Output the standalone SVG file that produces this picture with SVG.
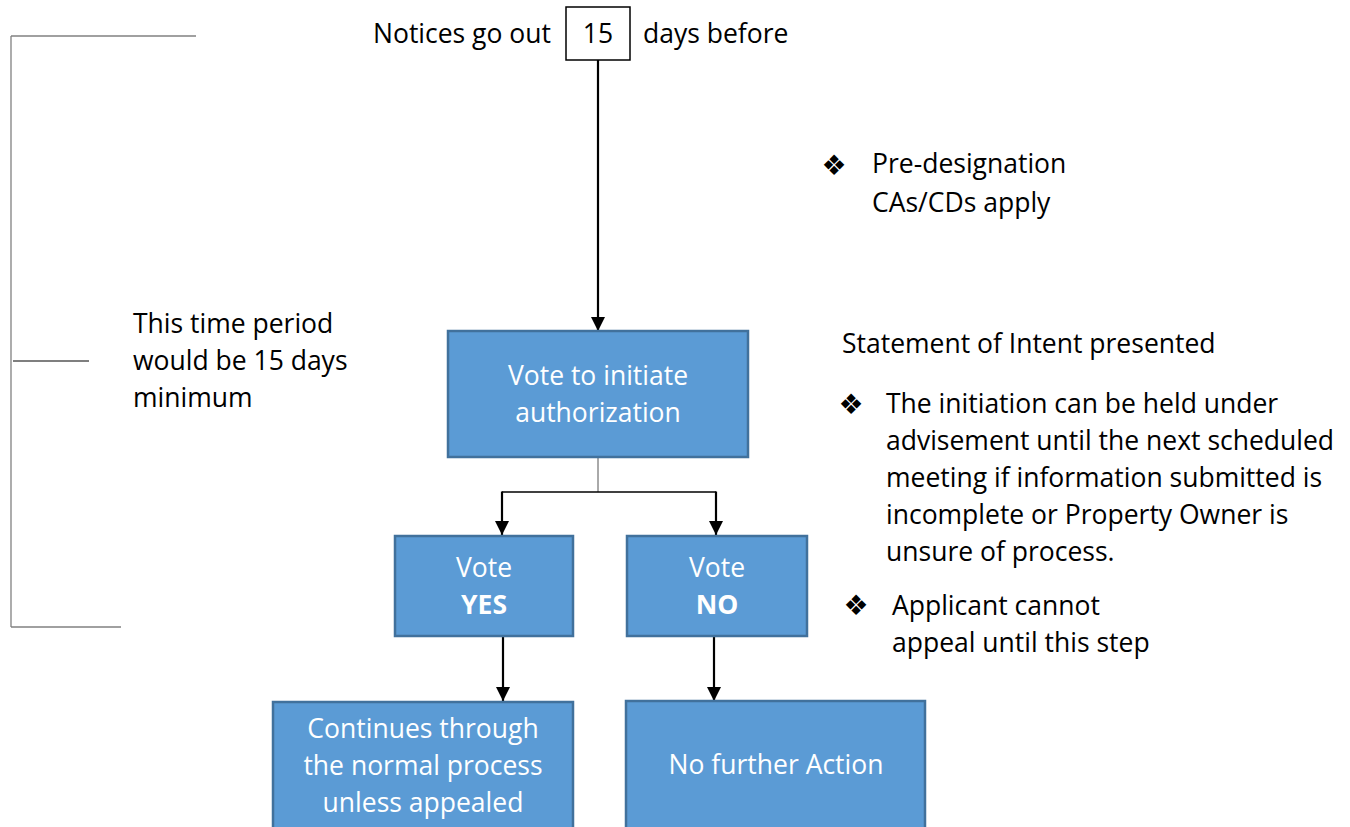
<svg xmlns="http://www.w3.org/2000/svg" width="1350" height="827" viewBox="0 0 1350 827">
<style>
.t{font-family:"Open Sans","Liberation Sans",sans-serif;font-size:26.5px;fill:#000}
.w{font-family:"Open Sans","Liberation Sans",sans-serif;font-size:26.5px;fill:#fff;text-anchor:middle}
.b{font-weight:bold}
.box{fill:#5B9BD5;stroke:#41719C;stroke-width:2.5}
.bul{font-family:"DejaVu Sans",sans-serif;font-size:28px;fill:#000;text-anchor:middle}
.br{stroke:#808080;stroke-width:1.3;fill:none}
.c{stroke:#000;stroke-width:2.2;fill:none}
</style>
<defs>
<marker id="ad" markerUnits="userSpaceOnUse" markerWidth="14" markerHeight="15" refX="7" refY="14" viewBox="0 0 14 15">
<path d="M0,0 L14,0 L7,14 Z" fill="#000"/>
</marker>
</defs>
<rect width="1350" height="827" fill="#fff"/>

<g id="bracket">
<line class="br" x1="11" y1="36" x2="196" y2="36"/>
<line class="br" x1="11" y1="36" x2="11" y2="627"/>
<line x1="13" y1="361" x2="89" y2="361" stroke="#000" stroke-width="1.2"/>
<line class="br" x1="11" y1="627" x2="121" y2="627"/>
</g>

<g id="left-note">
<text class="t" x="133" y="333">This time period</text>
<text class="t" x="133" y="370">would be 15 days</text>
<text class="t" x="133" y="407">minimum</text>
</g>

<g id="notices">
<text class="t" x="373" y="43">Notices go out</text>
<rect x="566" y="7" width="64" height="53" fill="#fff" stroke="#000" stroke-width="1.5"/>
<text class="t" x="598" y="43" text-anchor="middle">15</text>
<text class="t" x="643" y="43">days before</text>
</g>

<g id="connectors">
<line class="c" x1="598" y1="60" x2="598" y2="331" marker-end="url(#ad)"/>
<line x1="598" y1="457" x2="598" y2="492" stroke="#555" stroke-width="1"/>
<polyline points="502,492 716,492" stroke="#000" stroke-width="1.5" fill="none"/>
<line class="c" x1="502" y1="491.5" x2="502" y2="535" marker-end="url(#ad)"/>
<line class="c" x1="716" y1="491.5" x2="716" y2="535" marker-end="url(#ad)"/>
<line class="c" x1="503" y1="637" x2="503" y2="701" marker-end="url(#ad)"/>
<line class="c" x1="714" y1="637" x2="714" y2="701" marker-end="url(#ad)"/>
</g>

<g id="vote-initiate">
<rect class="box" x="448" y="331" width="300" height="126"/>
<text class="w" x="598" y="385">Vote to initiate</text>
<text class="w" x="598" y="422">authorization</text>
</g>

<g id="vote-yes">
<rect class="box" x="395" y="536" width="178" height="100"/>
<text class="w" x="484" y="577">Vote</text>
<text class="w b" x="484" y="614">YES</text>
</g>

<g id="vote-no">
<rect class="box" x="627" y="536" width="180" height="100"/>
<text class="w" x="717" y="577">Vote</text>
<text class="w b" x="717" y="614">NO</text>
</g>

<g id="continues">
<rect class="box" x="273" y="702" width="300" height="130"/>
<text class="w" x="423" y="738">Continues through</text>
<text class="w" x="423" y="775">the normal process</text>
<text class="w" x="423" y="812">unless appealed</text>
</g>

<g id="no-further">
<rect class="box" x="626" y="701" width="299" height="131"/>
<text class="w" x="776" y="774">No further Action</text>
</g>

<g id="pre-designation">
<text class="bul" x="834" y="175">❖</text>
<text class="t" x="872" y="173">Pre-designation</text>
<text class="t" x="872" y="212">CAs/CDs apply</text>
</g>

<g id="statement">
<text class="t" x="842" y="353">Statement of Intent presented</text>
<text class="bul" x="851" y="414">❖</text>
<text class="t" x="886" y="413">The initiation can be held under</text>
<text class="t" x="886" y="450">advisement until the next scheduled</text>
<text class="t" x="886" y="487">meeting if information submitted is</text>
<text class="t" x="886" y="524">incomplete or Property Owner is</text>
<text class="t" x="886" y="561">unsure of process.</text>
<text class="bul" x="856" y="615">❖</text>
<text class="t" x="892" y="615">Applicant cannot</text>
<text class="t" x="892" y="652">appeal until this step</text>
</g>
</svg>
